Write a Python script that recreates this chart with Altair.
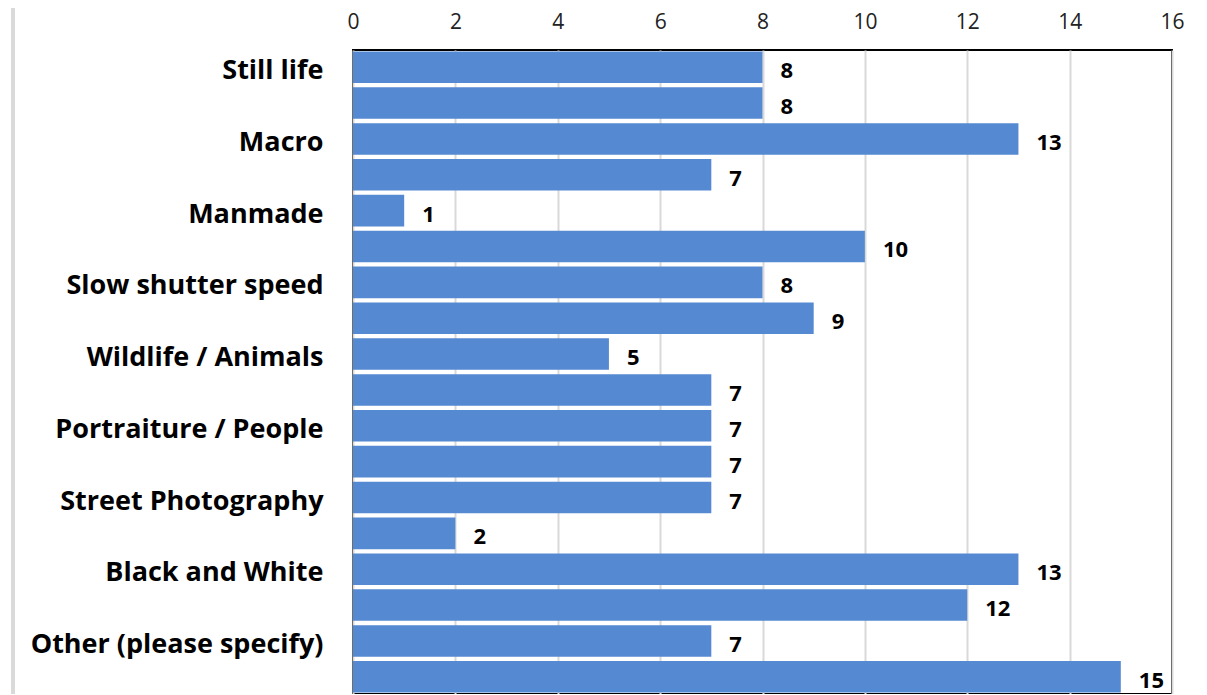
import altair as alt
import pandas as pd

labels = ["Still life", "", "Macro", "", "Manmade", "", "Slow shutter speed", "",
          "Wildlife / Animals", "", "Portraiture / People", "", "Street Photography", "",
          "Black and White", "", "Other (please specify)", ""]
values = [8, 8, 13, 7, 1, 10, 8, 9, 5, 7, 7, 7, 7, 2, 13, 12, 7, 15]
x_ticks = [0, 2, 4, 6, 8, 10, 12, 14, 16]

df = pd.DataFrame({"idx": list(range(len(values))), "value": values})

label_expr = "[" + ",".join("'" + l.replace("'", "\\'") + "'" for l in labels) + "][datum.value]"

y_enc = alt.Y("idx:O", scale=alt.Scale(paddingInner=0.12, paddingOuter=0.04),
              axis=alt.Axis(title=None, labelExpr=label_expr, labelFont="Open Sans",
                            labelFontWeight="bold", labelFontSize=27, labelColor="#000000",
                            labelPadding=30, labelOffset=4, ticks=False, domain=False,
                            grid=False, labelLimit=400))
x_enc = alt.X("value:Q", scale=alt.Scale(domain=[0, 16], nice=False),
              axis=alt.Axis(title=None, orient="top", values=x_ticks, labelFont="Open Sans",
                            labelFontSize=21, labelColor="#222222", labelPadding=18,
                            labelFlush=False, ticks=False, domain=False, grid=True,
                            gridColor="#d9d9d9", gridWidth=2))

bars = alt.Chart(df).mark_bar(color="#558AD2").encode(x=x_enc, y=y_enc)
text = alt.Chart(df).mark_text(align="left", baseline="middle", dx=18, dy=4,
                               font="Open Sans", fontWeight="bold", fontSize=22,
                               color="#000000").encode(x="value:Q", y="idx:O",
                                                       text="value:Q")
edge = alt.Chart(df).mark_rule(color="#d9d9d9", strokeWidth=3).encode(
    x=alt.value(-340), y=alt.value(-60), y2=alt.value(700))

chart = alt.layer(bars, text, edge).properties(
    width=819, height=644,
    autosize=alt.AutoSizeParams(type="none"),
    padding={"left": 345, "top": 42, "right": 20, "bottom": 0},
    background="white",
).configure_view(stroke="#000000", strokeWidth=2)

chart.save("out.html", embed_options={"renderer": "svg", "actions": False})
